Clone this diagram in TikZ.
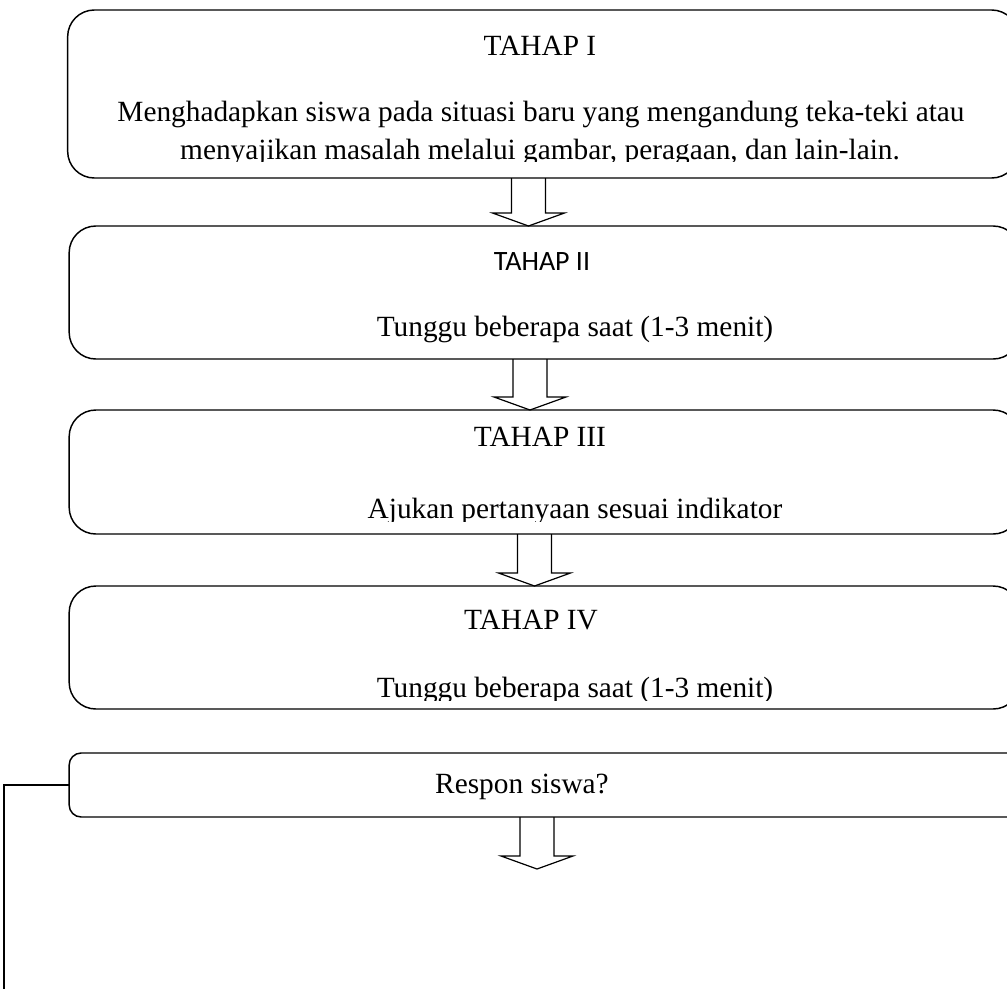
\documentclass[tikz,border=0pt]{standalone}
\usepackage{fontspec}
\setmainfont{Liberation Serif}
\newfontfamily\calibrifont{Carlito}
\usetikzlibrary{calc}
\tikzset{
  tahap/.style={draw, line width=1.1pt, rounded corners=20pt, inner sep=0pt, outer sep=0pt, minimum width=713pt},
  txt/.style={font=\fontsize{22}{26}\selectfont, inner sep=0pt, anchor=base},
  blockarrow/.style={draw, line width=0.9pt, line join=miter},
  link/.style={draw, line width=1.1pt}
}
\newcommand{\blockdown}[3]{%
  \draw[blockarrow] ($(#2 -| #1)+(-17,0)$) -- ($(#3 -| #1)+(-17,-13)$) -- ++(-19,0)
    -- (#3 -| #1) -- ++(36,-13) -- ++(-19,0) -- ($(#2 -| #1)+(17,0)$);}
\begin{document}
\begin{tikzpicture}[x=0.75pt, y=-0.75pt]
				\useasboundingbox (0,0) rectangle (1007,989);
				% Boxes
				\node [tahap, minimum height=126pt] (b1) at (543,94) {};
				\node [tahap, minimum height=99.75pt] (b2) at (544.5,292.5) {};
				\node [tahap, minimum height=93pt] (b3) at (544.5,472) {};
				\node [tahap, minimum height=92.25pt] (b4) at (544.5,647.5) {};
				\node [tahap, minimum height=48pt, rounded corners=9pt] (b5) at (544.5,785) {};
				% Texts
				\node [txt] (t1) at (540,55) {TAHAP I};
				\node [txt] (d1a) at (541,121) {Menghadapkan siswa pada situasi baru yang mengandung teka-teki atau};
				\begin{scope}
					\clip (60,100) rectangle (1010,161);
					\node [txt] (d1b) at (540,159) {menyajikan masalah melalui gambar, peragaan, dan lain-lain.};
				\end{scope}
				\node [txt, font=\calibrifont\fontsize{21}{25}\selectfont] (t2) at (542,270) {TAHAP II};
				\node [txt] (d2) at (575,336) {Tunggu beberapa saat (1-3 menit)};
				\node [txt] (t3) at (540,446) {TAHAP III};
				\begin{scope}
					\clip (60,480) rectangle (1010,521);
					\node [txt] (d3) at (575,518) {Ajukan pertanyaan sesuai indikator};
				\end{scope}
				\node [txt] (t4) at (531,629) {TAHAP IV};
				\begin{scope}
					\clip (60,660) rectangle (1010,700);
					\node [txt] (d4) at (575,697) {Tunggu beberapa saat (1-3 menit)};
				\end{scope}
				\node [txt] (r5) at (522,793) {Respon siswa?};
				% Arrows
				\coordinate (a1) at (528.5,0);
				\coordinate (a2) at (530,0);
				\coordinate (a3) at (534.5,0);
				\coordinate (a4) at (537,0);
				\coordinate (a4end) at (537,869);
				\blockdown{a1}{b1.south}{b2.north}
				\blockdown{a2}{b2.south}{b3.north}
				\blockdown{a3}{b3.south}{b4.north}
				\blockdown{a4}{b5.south}{a4end}
				% Back line
				\coordinate (back) at (4,1000);
				\draw [link] (b5.west) -| (back);
			\end{tikzpicture}
\end{document}
